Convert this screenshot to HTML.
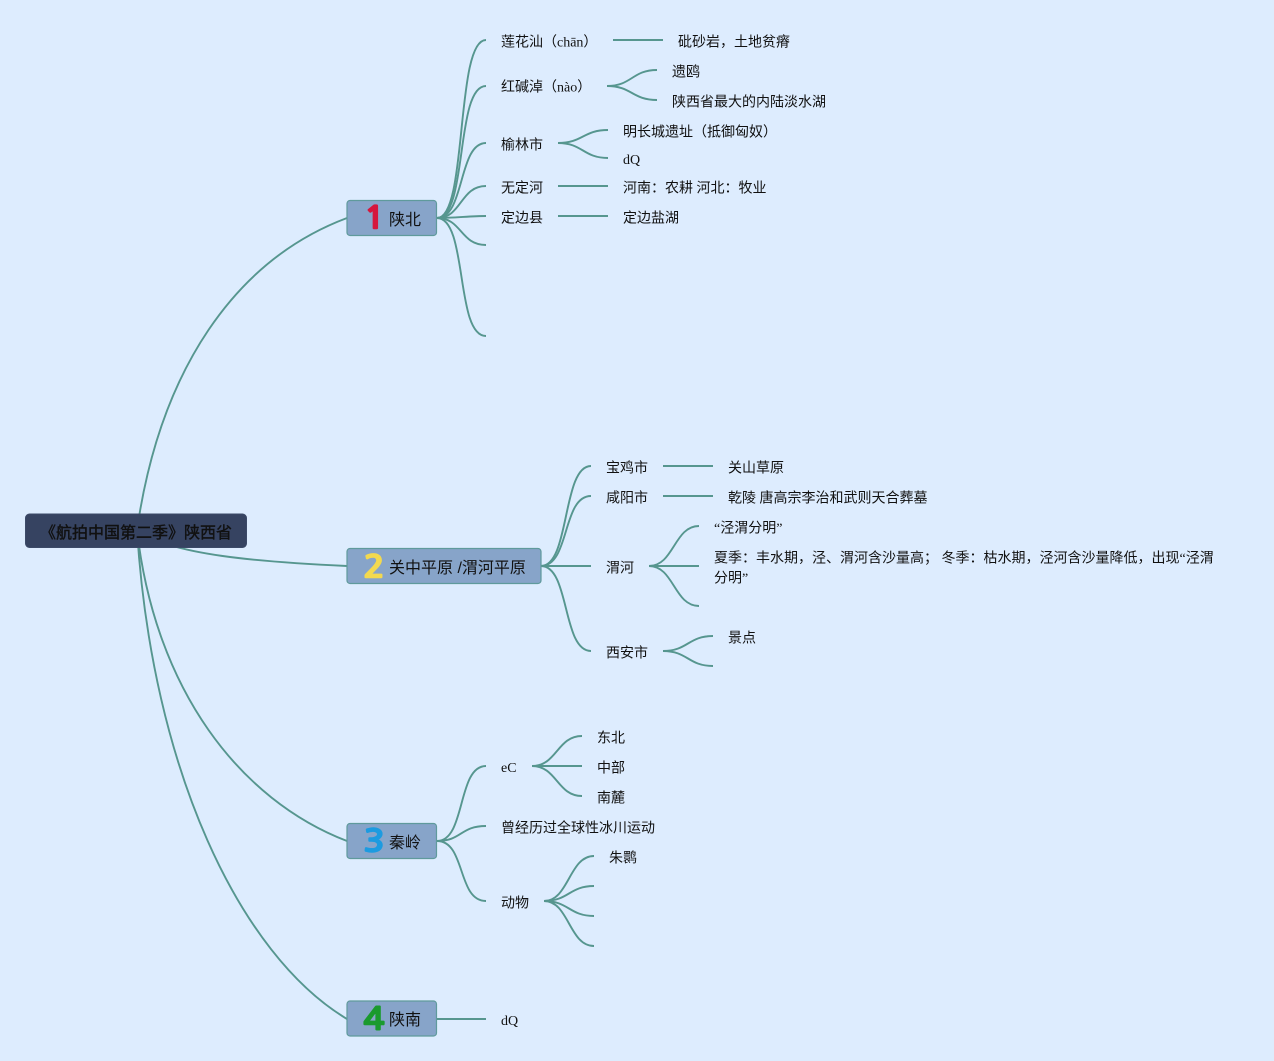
<!DOCTYPE html>
<html><head><meta charset="utf-8"><style>
html,body{margin:0;padding:0;background:#ddecfe;width:1274px;height:1061px;overflow:hidden}
svg{display:block}
text{font-family:"Liberation Serif","WenQuanYi Zen Hei","Noto Sans CJK SC",serif;font-size:14px;fill:#111}
.l{fill:none;stroke:#56968f;stroke-width:1.9}
.n{fill:#87a4c9;stroke:#5f9a9c;stroke-width:1.2}
.t{font-family:"Liberation Sans","WenQuanYi Zen Hei","Noto Sans CJK SC",sans-serif;font-size:16px;fill:#111}
.d{font-family:"NanumGothic","Noto Sans CJK SC",sans-serif;font-size:31px;font-weight:700;stroke-width:1.4;stroke-linejoin:round;text-anchor:middle}
</style></head><body>
<svg width="1274" height="1061" viewBox="0 0 1274 1061" xmlns="http://www.w3.org/2000/svg">
<rect width="1274" height="1061" fill="#ddecfe"/>
<g>
<path class="l" d="M137 530C160 370 235 260 347 218"/>
<path class="l" d="M137 530C170 555 260 562 347 566"/>
<path class="l" d="M137 530C155 690 240 800 347 841"/>
<path class="l" d="M137 530C152 770 240 955 347 1019"/>

<path class="l" d="M437 218C468 218 455 40 486 40"/>
<path class="l" d="M437 218C468 218 455 86 486 86"/>
<path class="l" d="M437 218C465 218 458 143 486 143"/>
<path class="l" d="M437 218C462 218 460 186 486 186"/>
<path class="l" d="M437 218C455 218 470 216 486 216"/>
<path class="l" d="M437 218C462 218 460 245 486 245"/>
<path class="l" d="M437 218C468 218 455 336 486 336"/>
<path class="l" d="M613 40H663"/>
<path class="l" d="M607 86C632 86 632 70 657 70"/>
<path class="l" d="M607 86C632 86 632 100 657 100"/>
<path class="l" d="M558 143C583 143 583 130 608 130"/>
<path class="l" d="M558 143C583 143 583 158 608 158"/>
<path class="l" d="M558 186H608"/>
<path class="l" d="M558 216H608"/>

<path class="l" d="M541 566C570 566 562 466 591 466"/>
<path class="l" d="M541 566C570 566 562 496 591 496"/>
<path class="l" d="M541 566H591"/>
<path class="l" d="M541 566C570 566 562 651 591 651"/>
<path class="l" d="M663 466H713"/>
<path class="l" d="M663 496H713"/>
<path class="l" d="M649 566C674 566 674 526 699 526"/>
<path class="l" d="M649 566H699"/>
<path class="l" d="M649 566C674 566 674 606 699 606"/>
<path class="l" d="M663 651C688 651 688 636 713 636"/>
<path class="l" d="M663 651C688 651 688 666 713 666"/>

<path class="l" d="M437 841C466 841 457 766 486 766"/>
<path class="l" d="M437 841C462 841 460 826 486 826"/>
<path class="l" d="M437 841C466 841 457 901 486 901"/>
<path class="l" d="M532 766C557 766 557 736 582 736"/>
<path class="l" d="M532 766H582"/>
<path class="l" d="M532 766C557 766 557 796 582 796"/>
<path class="l" d="M544 901C569 901 569 856 594 856"/>
<path class="l" d="M544 901C569 901 569 886 594 886"/>
<path class="l" d="M544 901C569 901 569 916 594 916"/>
<path class="l" d="M544 901C569 901 569 946 594 946"/>

<path class="l" d="M437 1019H486"/>
</g>

<rect x="25.5" y="514" width="221" height="33.500" rx="4" fill="#364361" stroke="#3c4a68"/>
<text x="40" y="538" style="font-family:'Liberation Sans','WenQuanYi Zen Hei','Noto Sans CJK SC',sans-serif;font-size:16px;stroke:#111;stroke-width:.4">《航拍中国第二季》陕西省</text>

<rect class="n" x="347" y="200.500" width="89.500" height="35" rx="3"/>
<text class="d" transform="translate(374.500 228.500) scale(1.15 1)" style="fill:#d5173c;stroke:#d5173c">1</text>
<text class="t" x="389" y="225">陕北</text>

<rect class="n" x="347" y="548.500" width="194" height="35" rx="3"/>
<text class="d" transform="translate(374 577.500) scale(1.15 1)" style="fill:#f3d94f;stroke:#f3d94f">2</text>
<text class="t" x="389" y="573">关中平原 /渭河平原</text>

<rect class="n" x="347" y="823.500" width="89.500" height="35" rx="3"/>
<text class="d" transform="translate(374 851.500) scale(1.15 1)" style="fill:#1d9be0;stroke:#1d9be0">3</text>
<text class="t" x="389" y="848">秦岭</text>

<rect class="n" x="347" y="1001" width="89.500" height="35" rx="3"/>
<text class="d" transform="translate(374 1029.500) scale(1.15 1)" style="fill:#1a9a2e;stroke:#1a9a2e">4</text>
<text class="t" x="389" y="1025">陕南</text>

<g transform="translate(0 .5)">
<text x="501" y="46">莲花汕（chān）</text>
<text x="678" y="46">砒砂岩，土地贫瘠</text>
<text x="501" y="91">红碱淖（nào）</text>
<text x="672" y="76">遗鸥</text>
<text x="672" y="106">陕西省最大的内陆淡水湖</text>
<text x="501" y="149">榆林市</text>
<text x="623" y="136">明长城遗址（抵御匈奴）</text>
<text x="501" y="192">无定河</text>
<text x="623" y="192">河南：农耕 河北：牧业</text>
<text x="501" y="222">定边县</text>
<text x="623" y="222">定边盐湖</text>

<text x="606" y="472">宝鸡市</text>
<text x="728" y="472">关山草原</text>
<text x="606" y="502">咸阳市</text>
<text x="728" y="502">乾陵 唐高宗李治和武则天合葬墓</text>
<text x="606" y="572">渭河</text>
<text x="714" y="532">“泾渭分明”</text>
<text x="714" y="562">夏季：丰水期，泾、渭河含沙量高；&#160;冬季：枯水期，泾河含沙量降低，出现“泾渭</text>
<text x="714" y="582">分明”</text>
<text x="606" y="657">西安市</text>
<text x="728" y="642">景点</text>

<text x="597" y="742">东北</text>
<text x="597" y="772">中部</text>
<text x="597" y="802">南麓</text>
<text x="501" y="832">曾经历过全球性冰川运动</text>
<text x="501" y="907">动物</text>
<text x="609" y="862">朱鹮</text>
</g>
<text x="623" y="164">dQ</text>
<text x="501" y="772">eC</text>
<text x="501" y="1025">dQ</text>
</svg>
</body></html>
